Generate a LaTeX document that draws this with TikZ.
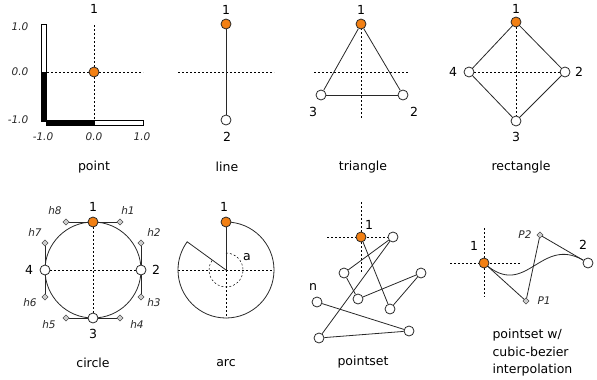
\documentclass[tikz,border=0pt]{standalone}
\usepackage{fontspec}
\setmainfont{DejaVu Sans}
\usetikzlibrary{shapes.geometric, positioning, calc, backgrounds}
\definecolor{PtOrange}{RGB}{242,128,20}
\definecolor{PtLine}{RGB}{40,40,40}
\definecolor{PtGray}{RGB}{205,205,205}

\begin{document}
\begin{tikzpicture}[x=1pt, y=-1pt,
          vtx/.style={circle, draw=PtLine, fill=white, line width=0.8pt,
                      inner sep=0pt, minimum size=10pt},
          vtxone/.style={vtx, fill=PtOrange},
          hdl/.style={diamond, draw=PtLine, fill=PtGray, thin,
                      inner sep=0pt, minimum size=6.5pt},
          lnk/.style={draw=PtLine, line width=0.8pt},
          guide/.style={draw=black, line width=0.5pt,
                        dash pattern=on 2pt off 2pt},
          num/.style={font=\fontsize{12.5}{14}\selectfont},
          ital/.style={font=\fontsize{10.5}{12}\selectfont\itshape,
                       text=PtLine},
          ttl/.style={font=\fontsize{12.5}{17.5}\selectfont}
        ]
        \useasboundingbox (0,0) rectangle (597,380);

        % point
        \node[vtxone] (p1) at (94,72) {};
        \node[num] (p1l) at (94,9) {1};
        \begin{scope}[on background layer]
          \draw[guide] (94,25) -- (94,120);
          \draw[guide] (47,72) -- (143,72);
        \end{scope}
        \draw[thin, fill=white] (41,24) rectangle (46,121);
        \draw[thin, fill=black] (41,72) rectangle (46,121);
        \draw[thin, fill=white] (46,120) rectangle (143,125);
        \draw[thin, fill=black] (46,120) rectangle (94,125);
        \node[ital] (ya) at (20,27)  {1.0};
        \node[ital] (yb) at (20,72)  {0.0};
        \node[ital] (yc) at (18,120) {-1.0};
        \node[ital] (xa) at (43,137)  {-1.0};
        \node[ital] (xb) at (94,137)  {0.0};
        \node[ital] (xc) at (142,137) {1.0};
        \node[ttl] (tpoint) at (94,167) {point};

        % line
        \node[vtxone] (l1) at (226,24) {};
        \node[vtx]    (l2) at (226,120) {};
        \node[num] at (226,10)  {1};
        \node[num] at (227,137) {2};
        \begin{scope}[on background layer]
          \draw[guide] (178,72) -- (274,72);
          \draw[lnk] (l1) -- (l2);
        \end{scope}
        \node[ttl] (tline) at (227,167) {line};

        % triangle
        \node[vtxone] (t1) at (361,24) {};
        \node[vtx]    (t2) at (403,95) {};
        \node[vtx]    (t3) at (321,95) {};
        \node[num] at (361,10)  {1};
        \node[num] at (414,112) {2};
        \node[num] at (313,112) {3};
        \begin{scope}[on background layer]
          \draw[guide] (314,72) -- (409,72);
          \draw[guide] (t1.center) -- (361,119);
          \foreach \a/\b in {t1/t2, t2/t3, t3/t1}{
            \draw[lnk] (\a) -- (\b);
          }
        \end{scope}
        \node[ttl] (ttri) at (363,167) {triangle};

        % rectangle
        \node[vtxone] (r1) at (516,22) {};
        \node[vtx]    (r2) at (565,72) {};
        \node[vtx]    (r3) at (516,121) {};
        \node[vtx]    (r4) at (469,72) {};
        \node[num] at (516,9)   {1};
        \node[num] at (579,72)  {2};
        \node[num] at (516,137) {3};
        \node[num] at (453,72)  {4};
        \begin{scope}[on background layer]
          \draw[guide] (r4) -- (r2);
          \draw[guide] (r1) -- (r3);
          \foreach \a/\b in {r1/r2, r2/r3, r3/r4, r4/r1}{
            \draw[lnk] (\a) -- (\b);
          }
        \end{scope}
        \node[ttl] (trect) at (521,167) {rectangle};

        % circle
        \coordinate (cc) at (93,270);
        \node[vtxone] (c1) at (93,222) {};
        \node[vtx]    (c2) at (141,270) {};
        \node[vtx]    (c3) at (93,318) {};
        \node[vtx]    (c4) at (45,270) {};
        \node[hdl] (h1) at (120,222) {};
        \node[hdl] (h2) at (141,243) {};
        \node[hdl] (h3) at (141,297) {};
        \node[hdl] (h4) at (120,318) {};
        \node[hdl] (h5) at (66,318)  {};
        \node[hdl] (h6) at (45,297)  {};
        \node[hdl] (h7) at (45,243)  {};
        \node[hdl] (h8) at (66,222)  {};
        \begin{scope}[on background layer]
          \draw[lnk] (cc) circle[radius=48];
          \draw[guide] (c1) -- (c3);
          \draw[guide] (c4) -- (c2);
          \foreach \a/\b in {h8/h1, h2/h3, h4/h5, h6/h7}{
            \draw[lnk] (\a) -- (\b);
          }
        \end{scope}
        \node[num] at (93,207)  {1};
        \node[num] at (156,270) {2};
        \node[num] at (93,334)  {3};
        \node[num] at (29,270)  {4};
        \node[ital] at (128,211) {h1};
        \node[ital] at (154,233) {h2};
        \node[ital] at (154,303) {h3};
        \node[ital] at (137,325) {h4};
        \node[ital] at (49,325)  {h5};
        \node[ital] at (30,303)  {h6};
        \node[ital] at (35,233)  {h7};
        \node[ital] at (55,211)  {h8};
        \node[ttl] (tcirc) at (93,363) {circle};

        % arc
        \coordinate (ac) at (226,270);
        \node[vtxone] (a1) at (226,222) {};
        \begin{scope}[on background layer]
          \draw[guide] (178,270) -- (274,270);
          \draw[guide] (ac) -- (226,318);
          \draw[guide] ($(ac)+(0,-17)$)
                arc[start angle=-90, end angle=216, radius=17];
          \draw[lnk] (a1.center)
                arc[start angle=-90, end angle=216, radius=48] -- (ac);
          \draw[lnk] (ac) -- (a1);
        \end{scope}
        \node[num] at (224,207) {1};
        \node[num] at (247,257) {a};
        \node[ttl] (tarc) at (226,363) {arc};

        % pointset
        \node[vtxone] (s1) at (361,237) {};
        \node[vtx] (sa) at (393,237) {};
        \node[vtx] (sb) at (344,273) {};
        \node[vtx] (sc) at (358,299) {};
        \node[vtx] (sd) at (421,273) {};
        \node[vtx] (se) at (390,309) {};
        \node[vtx] (sf) at (319,338) {};
        \node[vtx] (sg) at (409,331) {};
        \node[vtx] (sn) at (317,302) {};
        \begin{scope}[on background layer]
          \draw[guide] (327,237) -- (sa);
          \draw[guide] (361,202) -- (361,273);
          \foreach \a/\b in {s1/se, se/sd, sd/sc, sc/sb, sb/sa, sa/sf, sf/sg, sg/sn}{
            \draw[lnk] (\a) -- (\b);
          }
        \end{scope}
        \node[num] at (369,225) {1};
        \node[num] at (313,287) {n};
        \node[ttl] (tpset) at (363,362) {pointset};

        % pointset w/ bezier
        \node[vtxone] (b1) at (484,263) {};
        \node[hdl] (bp1) at (526,301) {};
        \node[hdl] (bp2) at (540,235) {};
        \node[vtx] (b2) at (588,263) {};
        \begin{scope}[on background layer]
          \draw[guide] (450,263) -- (520,263);
          \draw[guide] (484,228) -- (484,297);
          \draw[lnk] (b1.center) .. controls (bp1.center) and (bp2.center) .. (b2);
          \foreach \a/\b in {b1/bp1, bp1/bp2, bp2/b2}{
            \draw[lnk] (\a) -- (\b);
          }
        \end{scope}
        \node[num] at (474,246) {1};
        \node[num] at (583,245) {2};
        \node[ital] at (525,235) {P2};
        \node[ital] at (544,301) {P1};
        \node[ttl, anchor=west, align=left] (tbez) at (489,353)
              {pointset w/\\cubic-bezier\\interpolation};
      \end{tikzpicture}
\end{document}
